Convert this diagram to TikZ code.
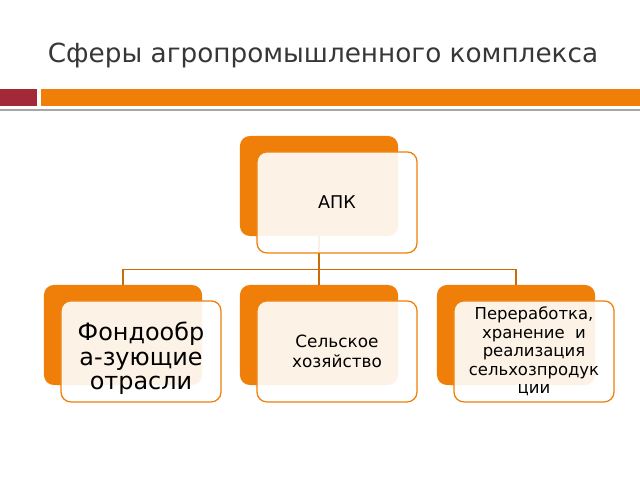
\documentclass[tikz,border=0pt]{standalone}
\usepackage{fontspec}
\setmainfont{DejaVu Sans}
\usetikzlibrary{positioning}

\definecolor{barorange}{RGB}{240,127,9}
\definecolor{barred}{RGB}{163,40,56}
\definecolor{titlegray}{RGB}{55,55,55}

\tikzset{
  backbox/.style={rounded corners=7, fill=barorange, draw=none,
                  minimum width=3.95cm, minimum height=2.5cm, inner sep=0pt},
  frontbox/.style={rounded corners=7, fill=white, fill opacity=0.9,
                   text opacity=1, draw=barorange, line width=0.9pt,
                   minimum width=4cm, minimum height=2.525cm, inner sep=2pt,
                   align=center},
  link/.style={draw=barorange!85!black, line width=0.9pt}
}

\begin{document}
\begin{tikzpicture}[x=0.025cm,y=-0.025cm]

  \useasboundingbox (0,0) rectangle (640,480);

  % title and header bars
  \node[text=titlegray, font=\fontsize{18.7}{22}\selectfont] (title) at (323,55)
       {Сферы агропромышленного комплекса};
  \fill[barred]    (0,89) rectangle (37,106);
  \fill[barorange] (41,89) rectangle (640,106);
  \fill[black!35]  (0,108.5) rectangle (640,110.5);

  % back boxes
  \node[backbox] (apkback)  at (319,186) {};
  \node[backbox] (fondback) at (123,335) {};
  \node[backbox] (selback)  at (319,335) {};
  \node[backbox] (perback)  at (516,335) {};

  % tree
  \draw[link] (apkback.south) -- ++(0,33) -| (fondback.north);
  \draw[link] (apkback.south) -- (selback.north);
  \draw[link] (apkback.south) -- ++(0,33) -| (perback.north);

  % front boxes
  \node[frontbox, font=\fontsize{12.5}{15}\selectfont] (apk)
       at ([xshift=0.45cm,yshift=-0.41cm]apkback) {АПК};
  \node[frontbox, font=\fontsize{17}{17.5}\selectfont] (fond)
       at ([xshift=0.45cm,yshift=-0.41cm]fondback)
       {\rule{0pt}{23pt}Фондообр\\а-зующие\\отрасли};
  \node[frontbox, font=\fontsize{12}{14.3}\selectfont] (sel)
       at ([xshift=0.45cm,yshift=-0.41cm]selback)
       {Сельское\\хозяйство};
  \node[frontbox, font=\fontsize{11.7}{13.1}\selectfont] (per)
       at ([xshift=0.45cm,yshift=-0.41cm]perback)
       {Переработка,\\хранение~~и\\реализация\\сельхозпродук\\ции};

\end{tikzpicture}
\end{document}
